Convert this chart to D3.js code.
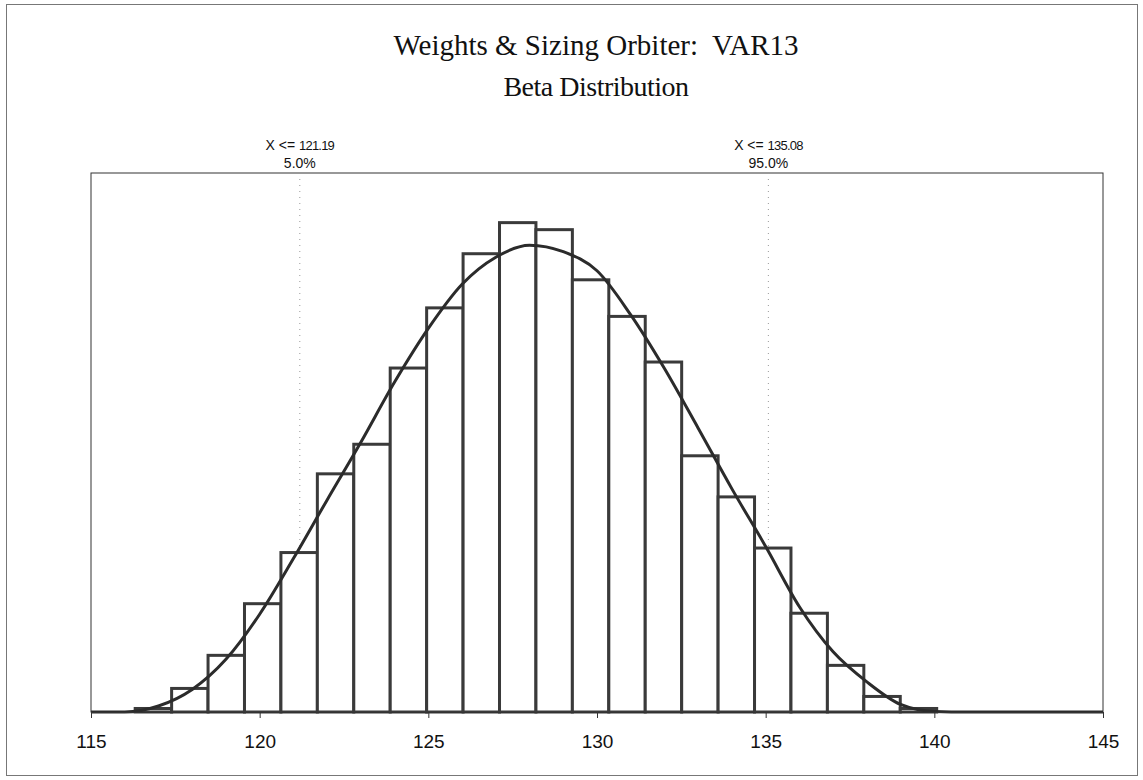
<!DOCTYPE html>
<html>
<head>
<meta charset="utf-8">
<script src="https://cdn.jsdelivr.net/npm/d3@7"></script>
<style>
  body { margin: 0; background: #fff; }
  svg { display: block; }
</style>
</head>
<body>
<div id="chart"></div>
<script>
// histogram bins (lower edge) and their share of the samples, in %
var binStarts = [116.31, 117.39, 118.47, 119.55, 120.63, 121.71, 122.79, 123.87, 124.95, 126.03, 127.11,
                 128.19, 129.27, 130.35, 131.43, 132.51, 133.59, 134.67, 135.75, 136.83, 137.91, 138.99];
var binPct = [0.07, 0.47, 1.13, 2.16, 3.18, 4.75, 5.34, 6.86, 8.06, 9.14, 9.76,
              9.62, 8.62, 7.89, 6.98, 5.11, 4.29, 3.27, 1.97, 0.93, 0.31, 0.07];
var binWidth = 1.08;

// fitted beta curve
var curveX = [115, 116, 117, 118, 119, 120, 121, 122, 123, 124, 125, 126, 127, 128, 129, 130,
              131, 132, 133, 134, 135, 136, 137, 138, 139, 140, 141, 145];
var curveY = [0, 0, 0.12, 0.45, 1.05, 1.95, 3.06, 4.23, 5.38, 6.58, 7.65, 8.53, 9.07, 9.31, 9.18, 8.8,
              7.92, 6.85, 5.66, 4.45, 3.3, 2.1, 1.2, 0.6, 0.15, 0.01, 0, 0];

// percentile markers
var markerX = [121.19, 135.08];
var markerPct = ["5.0%", "95.0%"];

var xTicks = [115, 120, 125, 130, 135, 140, 145];

function init() {
    var w = 1143, h = 780;
    var left = 91, right = 1103, top = 173, bottom = 712;

    var svg = d3.select("#chart").append("svg")
        .attr("width", w)
        .attr("height", h);

    // outer border
    svg.append("rect")
        .attr("x", 6.5).attr("y", 4.5)
        .attr("width", 1131).attr("height", 771)
        .attr("fill", "none")
        .attr("stroke", "#777")
        .attr("stroke-width", 1);

    var xScale = d3.scaleLinear().domain([115, 145]).range([left, right]);
    var yScale = d3.scaleLinear().domain([0, 10.75]).range([bottom, top]);

    // titles
    svg.append("text")
        .attr("x", 596).attr("y", 55)
        .attr("text-anchor", "middle")
        .style("font-family", "'Liberation Serif', 'Times New Roman', serif")
        .style("font-size", "29px")
        .attr("fill", "#111")
        .text("Weights & Sizing Orbiter:\u00a0 VAR13");

    svg.append("text")
        .attr("x", 596).attr("y", 96)
        .attr("text-anchor", "middle")
        .style("font-family", "'Liberation Serif', 'Times New Roman', serif")
        .style("font-size", "28px")
        .style("letter-spacing", "-0.5px")
        .attr("fill", "#111")
        .text("Beta Distribution");

    // plot frame
    svg.append("rect")
        .attr("x", left).attr("y", top)
        .attr("width", right - left).attr("height", bottom - top)
        .attr("fill", "none")
        .attr("stroke", "#333")
        .attr("stroke-width", 1);

    // dotted percentile lines
    svg.selectAll(".marker")
        .data(markerX)
        .enter()
        .append("line")
        .attr("class", "marker")
        .attr("x1", function (d) { return xScale(d); })
        .attr("x2", function (d) { return xScale(d); })
        .attr("y1", top)
        .attr("y2", bottom)
        .attr("stroke", "#999")
        .attr("stroke-width", 1)
        .attr("stroke-dasharray", "1,5");

    var lab = svg.selectAll(".mlabel")
        .data(markerX)
        .enter()
        .append("g")
        .attr("class", "mlabel")
        .style("font-family", "'Liberation Sans', Arial, sans-serif")
        .attr("fill", "#111");

    var l1 = lab.append("text")
        .attr("x", function (d) { return xScale(d); })
        .attr("y", 150)
        .attr("text-anchor", "middle")
        .style("font-size", "14px");
    l1.append("tspan").text("X <= ");
    l1.append("tspan")
        .style("font-size", "13px")
        .style("letter-spacing", "-0.8px")
        .text(function (d) { return d.toFixed(2); });

    lab.append("text")
        .attr("x", function (d) { return xScale(d); })
        .attr("y", 168)
        .attr("text-anchor", "middle")
        .style("font-size", "14px")
        .text(function (d, i) { return markerPct[i]; });

    // histogram bars
    svg.selectAll(".bar")
        .data(binStarts)
        .enter()
        .append("rect")
        .attr("class", "bar")
        .attr("x", function (d) { return xScale(d); })
        .attr("y", function (d, i) { return yScale(binPct[i]); })
        .attr("width", function (d) { return xScale(d + binWidth) - xScale(d); })
        .attr("height", function (d, i) { return yScale(0) - yScale(binPct[i]); })
        .attr("fill", "#fff")
        .attr("stroke", "#3a3a3a")
        .attr("stroke-width", 3);

    // fitted curve
    var line = d3.line()
        .x(function (d) { return xScale(d); })
        .y(function (d, i) { return yScale(curveY[i]); })
        .curve(d3.curveMonotoneX);

    svg.append("path")
        .datum(curveX)
        .attr("d", line)
        .attr("fill", "none")
        .attr("stroke", "#2b2b2b")
        .attr("stroke-width", 3);

    // x axis
    var xAxis = d3.axisBottom(xScale)
        .tickValues(xTicks)
        .tickSize(6)
        .tickPadding(17)
        .tickFormat(d3.format("d"));

    var gx = svg.append("g")
        .attr("transform", "translate(0," + bottom + ")")
        .call(xAxis);
    gx.select(".domain").attr("stroke", "#333");
    gx.selectAll(".tick line").attr("stroke", "#333");
    gx.selectAll("text")
        .style("font-family", "'Liberation Sans', Arial, sans-serif")
        .style("font-size", "19px")
        .attr("fill", "#111");
}

window.onload = init;
</script>
</body>
</html>
